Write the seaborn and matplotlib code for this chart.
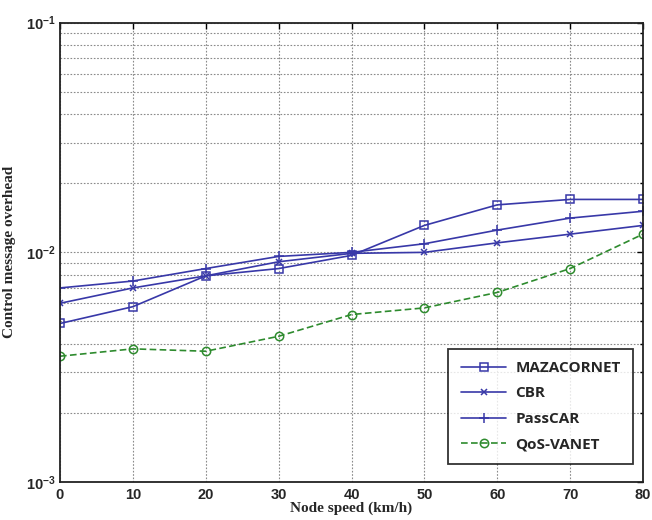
import numpy as np
import pandas as pd
import matplotlib
matplotlib.use("Agg")
import matplotlib.pyplot as plt
import seaborn as sns
from matplotlib.ticker import LogLocator, NullFormatter, FixedLocator

speed = [0, 10, 20, 30, 40, 50, 60, 70, 80]
mazacornet = [0.0049, 0.0058, 0.0079, 0.0085, 0.0097, 0.0131, 0.0161, 0.0170, 0.0170]
cbr = [0.0060, 0.0070, 0.0079, 0.0091, 0.0099, 0.0100, 0.0110, 0.0120, 0.0131]
passcar = [0.0070, 0.0075, 0.0085, 0.0096, 0.0100, 0.0109, 0.0125, 0.0141, 0.0151]
qos_vanet = [0.00353, 0.0038, 0.00371, 0.00431, 0.00536, 0.00573, 0.00669, 0.0085, 0.0120]
series_names = ["MAZACORNET", "CBR", "PassCAR", "QoS-VANET"]
y_ticks = [1e-3, 1e-2, 1e-1]
y_tick_labels = [r"$\mathbf{10^{-3}}$", r"$\mathbf{10^{-2}}$", r"$\mathbf{10^{-1}}$"]

sns.set_style("white")
plt.rcParams["mathtext.fontset"] = "custom"
plt.rcParams["mathtext.bf"] = "Liberation Sans:bold"
plt.rcParams["mathtext.rm"] = "Liberation Sans"

blue = "#3838A8"
green = "#2E8B2E"
styles = {
    "MAZACORNET": dict(color=blue, marker="s", linestyle="-", ms=6),
    "CBR": dict(color=blue, marker="x", linestyle="-", ms=5),
    "PassCAR": dict(color=blue, marker="+", linestyle="-", ms=7),
    "QoS-VANET": dict(color=green, marker="o", linestyle=(0, (4, 2)), ms=6),
}
values = {"MAZACORNET": mazacornet, "CBR": cbr, "PassCAR": passcar, "QoS-VANET": qos_vanet}

fig = plt.figure(figsize=(6.52, 5.2), dpi=100)
ax = fig.add_axes([60 / 652, 38 / 520, 583 / 652, 459.3 / 520])

handles = []
for name in series_names:
    st = styles[name]
    d = pd.DataFrame({"speed": speed, "value": values[name]})
    sns.lineplot(data=d, x="speed", y="value", ax=ax, color=st["color"],
                 marker=st["marker"], linestyle=st["linestyle"], linewidth=1.2,
                 markersize=st["ms"], markerfacecolor="none", markeredgecolor=st["color"],
                 markeredgewidth=1.1, label=name, legend=False)
    handles.append(ax.get_lines()[-1])

ax.set_yscale("log")
ax.set_xlim(0, 80)
ax.set_ylim(1e-3, 1e-1)
ax.set_xticks(speed)
ax.set_xticklabels([str(s) for s in speed], fontsize=10.5, fontweight="bold",
                   family="Liberation Sans")
ax.yaxis.set_major_locator(FixedLocator(y_ticks))
ax.set_yticklabels(y_tick_labels, fontsize=10.5)
ax.yaxis.set_minor_locator(LogLocator(base=10, subs=np.arange(2, 10)))
ax.yaxis.set_minor_formatter(NullFormatter())

ax.grid(True, which="major", axis="both", linestyle=(0, (1.5, 1.5)),
        color="#8a8a8a", linewidth=0.8)
ax.grid(True, which="minor", axis="y", linestyle=(0, (1.5, 1.5)),
        color="#8a8a8a", linewidth=0.8)
ax.tick_params(which="both", direction="in", top=True, right=True,
               length=4, width=1, color="black")
ax.tick_params(which="minor", length=2)
ax.tick_params(axis="x", pad=4)
ax.tick_params(axis="y", pad=3)
for sp in ax.spines.values():
    sp.set_color("#222222")
    sp.set_linewidth(1.3)

ax.set_xlabel("Node speed (km/h)", fontsize=11, fontweight="bold",
              family="Liberation Serif", labelpad=0)
ax.set_ylabel("Control message overhead", fontsize=11, fontweight="bold",
              family="Liberation Serif", labelpad=7)

leg = ax.legend(handles=handles, labels=series_names,
                loc="lower right", bbox_to_anchor=(0.983, 0.04),
                prop={"family": "Open Sans", "weight": "bold", "size": 11},
                frameon=True, fancybox=False, edgecolor="black",
                handlelength=3.0, labelspacing=0.75, borderpad=0.8,
                handletextpad=0.6, borderaxespad=0)
leg.get_frame().set_linewidth(1.3)
leg.get_frame().set_facecolor("white")

fig.savefig("out.png", dpi=100)
